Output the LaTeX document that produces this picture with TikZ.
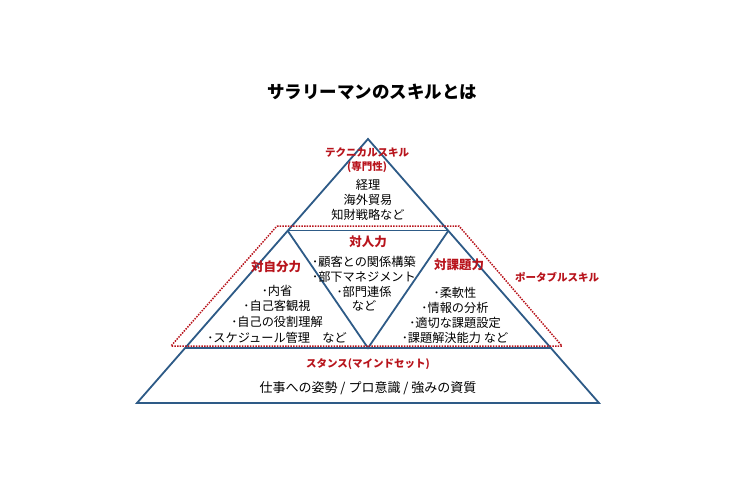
\documentclass[tikz,border=0pt]{standalone}
\usepackage{fontspec}
\setmainfont{Noto Sans CJK JP}
\usetikzlibrary{positioning}
\definecolor{pyrblue}{HTML}{2E5B87}
\definecolor{skillred}{HTML}{B8141C}

\begin{document}
\begin{tikzpicture}[x=1pt,y=-1pt,
    edge/.style={pyrblue, line width=1.8pt, line join=miter},
    portable/.style={skillred, line width=1.5pt, dash pattern=on 1.5pt off 1.2pt},
    head/.style={skillred, font=\bfseries\fontsize{12.5}{14}\selectfont, inner sep=0pt},
    kanahead/.style={head, font=\bfseries\fontsize{10.5}{12}\selectfont},
    item/.style={font=\fontsize{12.2}{15}\selectfont, align=center, inner sep=0pt}]
  \useasboundingbox (0,0) rectangle (750,500);

  % Title
  \node[font=\bfseries\fontsize{17.5}{20}\selectfont] (title) at (372,92) {サラリーマンのスキルとは};

  % Pyramid
  \coordinate (apex) at (368,139);
  \coordinate (baseL) at (137,403);
  \coordinate (baseR) at (599,403);
  \coordinate (midL) at (287.5,230.5);
  \coordinate (midR) at (448.5,230.5);
  \coordinate (lowL) at (184.5,348);
  \coordinate (lowR) at (551.5,348);
  \coordinate (vbot) at (368,348);
  \draw[edge] (apex) -- (baseL) -- (baseR) -- cycle;
  \draw[edge] (midL) -- (midR);
  \draw[edge] (lowL) -- (lowR);
  \draw[edge] (midL) -- (vbot) -- (midR);

  % Portable skill frame
  \coordinate (portTL) at (277,226);
  \coordinate (portTR) at (459,226);
  \coordinate (portBR) at (562,346);
  \coordinate (portBL) at (171,346);
  \draw[portable] (portTL) -- (portTR) -- (portBR) -- (portBL) -- cycle;

  % Technical skill
  \node[kanahead] (tech) at (367,152) {テクニカルスキル};
  \node[kanahead] (techsub) at (367,167) {(専門性)};
  \node[item] (techlist) at (368,200) {経理\\海外貿易\\知財戦略など};

  % Interpersonal
  \node[head] (inter) at (368,242) {対人力};
  \node[item, font=\fontsize{12.2}{14.7}\selectfont] (interlist) at (364,284)
    {･顧客との関係構築\\･部下マネジメント\\･部門連係\\など};

  % Self
  \node[head] (self) at (276,267) {対自分力};
  \node[item, font=\fontsize{12.2}{15.6}\selectfont] (selflist) at (277,314)
    {･内省\\･自己客観視\\･自己の役割理解\\･スケジュール管理　など};

  % Task
  \node[head] (task) at (459,265) {対課題力};
  \node[item] (tasklist) at (455,315)
    {･柔軟性\\･情報の分析\\･適切な課題設定\\･課題解決能力 など};

  \node[kanahead, anchor=west] (port) at (515,277) {ポータブルスキル};

  % Stance
  \node[kanahead] (stance) at (368,364) {スタンス(マインドセット)};
  \node[item, font=\fontsize{13}{15}\selectfont] (stancelist) at (368,388) {仕事への姿勢 / プロ意識 / 強みの資質};
\end{tikzpicture}
\end{document}
